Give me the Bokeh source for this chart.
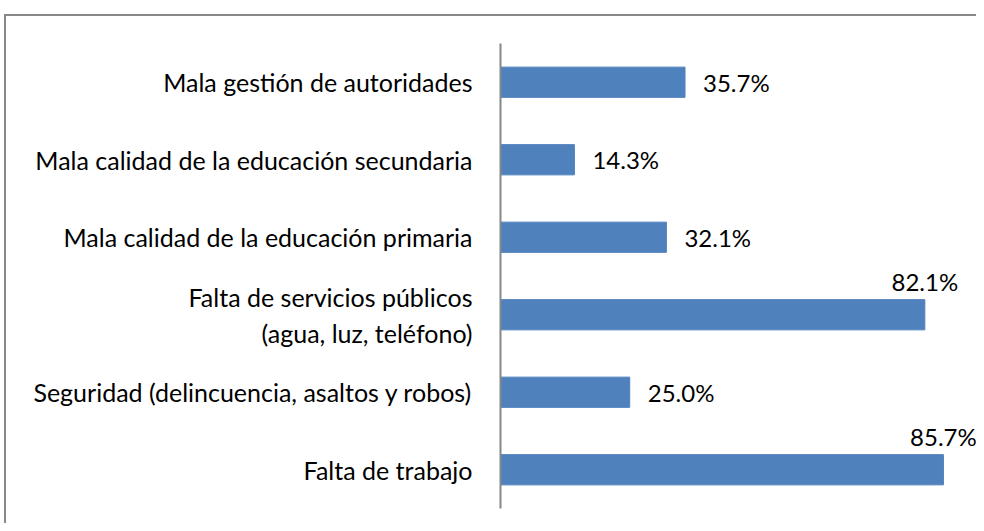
from bokeh.plotting import figure
from bokeh.models import ColumnDataSource, FactorRange, Range1d, InlineStyleSheet
from bokeh.core.properties import value
from bokeh.embed import file_html
from bokeh.resources import INLINE

categories = [
    "Mala gestión de autoridades",
    "Mala calidad de la educación secundaria",
    "Mala calidad de la educación primaria",
    "Falta de servicios públicos\n(agua, luz, teléfono)",
    "Seguridad (delincuencia, asaltos y robos)",
    "Falta de trabajo",
]
values = [35.7, 14.3, 32.1, 82.1, 25.0, 85.7]
labels = ["35.7%", "14.3%", "32.1%", "82.1%", "25.0%", "85.7%"]

FONT = "Lato"
BAR = "#4F81BD"

side_cats = [c for c, v in zip(categories, values) if v < 80]
side_vals = [v for v in values if v < 80]
side_labs = [l for l, v in zip(labels, values) if v < 80]
top_cats = [c for c, v in zip(categories, values) if v >= 80]
top_vals = [v for v in values if v >= 80]
top_labs = [l for l, v in zip(labels, values) if v >= 80]

p = figure(
    width=976, height=523,
    y_range=FactorRange(*list(reversed(categories))),
    x_range=Range1d(0, 92.1),
    output_backend="svg", toolbar_location=None,
    min_border_left=500, min_border_right=0, min_border_top=43, min_border_bottom=15,
)
p.outline_line_color = None
p.xgrid.visible = False
p.ygrid.visible = False
p.xaxis.visible = False

src = ColumnDataSource(dict(cat=categories, val=values))
p.hbar(y="cat", right="val", left=0, height=0.39, source=src,
       fill_color=BAR, line_color=BAR, line_width=1)

s1 = ColumnDataSource(dict(cat=side_cats, val=side_vals, lab=side_labs))
p.text(x="val", y="cat", text="lab", source=s1, x_offset=18,
       text_align="left", text_baseline="middle",
       text_font=value(FONT), text_font_size="24px", text_color="black")
s2 = ColumnDataSource(dict(cat=top_cats, val=top_vals, lab=top_labs))
p.text(x="val", y="cat", text="lab", source=s2, y_offset=-33,
       text_align="center", text_baseline="alphabetic",
       text_font=value(FONT), text_font_size="24px", text_color="black")

ax = p.yaxis[0]
ax.axis_line_color = "#868686"
ax.axis_line_width = 2
ax.major_tick_line_color = None
ax.minor_tick_line_color = None
ax.major_label_standoff = 22
ax.major_label_text_font = FONT
ax.major_label_text_font_size = "25px"
ax.major_label_text_color = "black"
# centre the second line of the two-line label under the first
two_line = [c for c in categories if "\n" in c]
ax.major_label_overrides = {c: c + "\u00a0" * 7 for c in two_line}

# chart-area border (only top and left edges are visible in the original)
p.stylesheets = [InlineStyleSheet(css="""
:host { position: relative; }
:host::after {
  content: "";
  position: absolute;
  left: 4px; top: 14px;
  width: calc(100% - 4px); height: calc(100% - 14px);
  border-top: 2px solid #888888;
  border-left: 2px solid #888888;
  box-sizing: border-box;
  pointer-events: none;
}
""")]

open("out.html", "w").write(file_html(p, INLINE))
